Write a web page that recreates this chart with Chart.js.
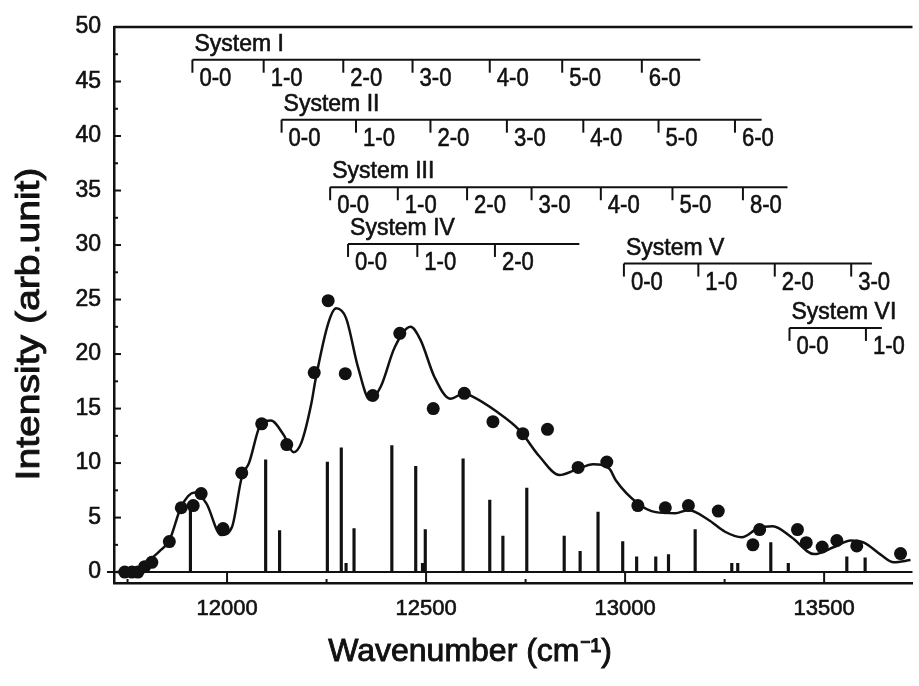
<!doctype html>
<html>
<head>
<meta charset="utf-8">
<title>Intensity vs wavenumber</title>
<script src="https://cdn.jsdelivr.net/npm/chart.js"></script>
<style>
  html, body { margin: 0; padding: 0; background: #fff; overflow: hidden; }
</style>
</head>
<body>
<canvas id="c" width="919" height="686"></canvas>
<script>
// measured intensities (filled circles)
const dotX = [11743, 11761, 11776, 11793, 11811, 11855, 11885, 11915, 11935, 11990, 12037, 12087, 12150,
  12219, 12254, 12297, 12366, 12434, 12518, 12596, 12668, 12743, 12805, 12882, 12954, 13032, 13101,
  13159, 13234, 13321, 13338, 13433, 13455, 13495, 13532, 13582, 13692];
const dotY = [0.0, 0.0, 0.0, 0.5, 0.9, 2.8, 5.9, 6.1, 7.2, 4.0, 9.1, 13.6, 11.7,
  18.3, 24.9, 18.2, 16.2, 21.9, 15.0, 16.4, 13.8, 12.7, 13.1, 9.6, 10.1, 6.1, 5.9,
  6.1, 5.6, 2.5, 3.9, 3.9, 2.7, 2.3, 2.9, 2.4, 1.7];

// simulated envelope (solid line)
const fitX = [11722, 11760, 11790, 11806, 11830, 11855, 11885, 11918, 11948, 11985, 12012, 12037, 12055,
  12087, 12110, 12142, 12167, 12187, 12212, 12222, 12254, 12274, 12299, 12329, 12359, 12386, 12421,
  12461, 12486, 12521, 12561, 12596, 12611, 12678, 12735, 12785, 12835, 12877, 12920, 12960, 12977,
  13032, 13077, 13126, 13159, 13209, 13251, 13293, 13333, 13371, 13418, 13475, 13525, 13567, 13600,
  13642, 13675, 13717];
const fitY = [0.0, 0.1, 0.4, 1.1, 1.9, 2.9, 6.0, 7.3, 6.3, 3.4, 4.1, 8.7, 10.0,
  13.7, 13.9, 12.6, 11.0, 11.9, 15.5, 17.6, 22.8, 24.2, 23.3, 18.8, 15.8, 17.0, 20.6,
  22.5, 21.3, 17.9, 15.9, 16.4, 16.2, 14.7, 13.0, 10.6, 8.9, 9.4, 9.9, 9.5, 8.4,
  6.3, 5.5, 5.4, 5.7, 4.8, 3.7, 3.2, 4.0, 4.2, 3.2, 1.65, 2.3, 2.9, 2.7,
  1.6, 0.9, 1.1];

// band positions (stick spectrum)
const stickX = [11908, 12097, 12132, 12252, 12287, 12299, 12319, 12414, 12474, 12491, 12498, 12593, 12660,
  12693, 12753, 12847, 12887, 12932, 12994, 13029, 13077, 13109, 13176, 13268, 13283, 13366, 13410,
  13557, 13603];
const stickY = [6.2, 10.3, 3.8, 10.1, 11.4, 0.8, 4.0, 11.6, 9.7, 0.8, 3.9, 10.4, 6.6,
  3.3, 7.7, 3.3, 1.9, 5.5, 2.8, 1.4, 1.4, 1.6, 3.9, 0.8, 0.8, 2.7, 0.8,
  1.4, 1.3];

const xTicks = [12000, 12500, 13000, 13500];
const yTicks = [0, 5, 10, 15, 20, 25, 30, 35, 40, 45, 50];

// vibronic progressions drawn above the spectrum
const systemNames = ['System I', 'System II', 'System III', 'System IV', 'System V', 'System VI'];
const systemLevel = [47.0, 41.5, 35.3, 30.1, 28.3, 22.4];
const systemEnd = [13189, 13343, 13408, 12885, 13620, 13645];
const systemBands = [
  [11913, 12092, 12292, 12466, 12660, 12842, 13042],
  [12137, 12324, 12511, 12703, 12895, 13084, 13276],
  [12259, 12429, 12603, 12765, 12939, 13119, 13296],
  [12304, 12478, 12673],
  [12997, 13184, 13376, 13568],
  [13413, 13605]
];
const bandLabels = [
  ['0-0', '1-0', '2-0', '3-0', '4-0', '5-0', '6-0'],
  ['0-0', '1-0', '2-0', '3-0', '4-0', '5-0', '6-0'],
  ['0-0', '1-0', '2-0', '3-0', '4-0', '5-0', '8-0'],
  ['0-0', '1-0', '2-0'],
  ['0-0', '1-0', '2-0', '3-0'],
  ['0-0', '1-0']
];

const INK = '#111';
const FONT = '"Liberation Sans", Arial, sans-serif';

// fill + thin stroke, the scan has heavy glyphs
function inkText(ctx, txt, x, y) {
  ctx.fillText(txt, x, y);
  ctx.strokeText(txt, x, y);
}

const decor = {
  id: 'decor',
  beforeDatasetsDraw(chart) {
    const { ctx, chartArea: a, scales: { y } } = chart;
    const y0 = y.getPixelForValue(0);
    ctx.save();
    ctx.strokeStyle = INK;
    ctx.lineWidth = 2;
    ctx.beginPath(); ctx.moveTo(a.left - 7, y0); ctx.lineTo(a.right, y0); ctx.stroke();
    ctx.restore();
  },
  afterDraw(chart) {
    const { ctx, chartArea: a, scales: { x, y } } = chart;
    ctx.save();
    ctx.strokeStyle = INK;
    ctx.fillStyle = INK;

    // top frame line
    ctx.lineWidth = 2.5;
    ctx.beginPath(); ctx.moveTo(a.left, a.top); ctx.lineTo(a.right, a.top); ctx.stroke();

    // inward ticks, major + minor
    ctx.lineWidth = 2;
    const xs = xTicks[1] - xTicks[0];
    for (let v = xTicks[0] - xs / 2; v <= x.max; v += xs / 2) {
      const px = x.getPixelForValue(v);
      if (px < a.left) continue;
      const major = xTicks.includes(v);
      ctx.beginPath(); ctx.moveTo(px, a.bottom); ctx.lineTo(px, a.bottom - (major ? 10 : 4)); ctx.stroke();
    }
    const ys = yTicks[1] - yTicks[0];
    for (let v = yTicks[0]; v <= y.max; v += ys / 2) {
      const py = y.getPixelForValue(v);
      const major = yTicks.includes(v);
      ctx.beginPath(); ctx.moveTo(a.left, py); ctx.lineTo(a.left + (major ? 7 : 4), py); ctx.stroke();
    }

    // system progressions
    systemNames.forEach((name, s) => {
      const ly = y.getPixelForValue(systemLevel[s]);
      const bx = systemBands[s].map(v => x.getPixelForValue(v));
      ctx.lineWidth = 2;
      ctx.beginPath(); ctx.moveTo(bx[0], ly); ctx.lineTo(x.getPixelForValue(systemEnd[s]), ly); ctx.stroke();
      ctx.font = '23px ' + FONT;
      ctx.textAlign = 'left';
      ctx.textBaseline = 'alphabetic';
      ctx.lineWidth = 0.6;
      inkText(ctx, name, bx[0] + 2, ly - 9);
      bx.forEach((px, i) => {
        ctx.lineWidth = 2;
        ctx.beginPath(); ctx.moveTo(px, ly); ctx.lineTo(px, ly + 13); ctx.stroke();
        ctx.save();
        ctx.translate(px + 7, ly + 6);
        ctx.scale(0.85, 1);
        ctx.font = '26px ' + FONT;
        ctx.textBaseline = 'top';
        ctx.lineWidth = 0.6;
        inkText(ctx, bandLabels[s][i], 0, 0);
        ctx.restore();
      });
    });

    // axis titles
    ctx.font = '32px ' + FONT;
    ctx.textAlign = 'center';
    ctx.textBaseline = 'middle';
    ctx.lineWidth = 0.9;
    inkText(ctx, 'Wavenumber (cm\u207B\u00B9)', a.left + 356, a.bottom + 69);
    ctx.save();
    ctx.translate(30, a.top + 297);
    ctx.rotate(-Math.PI / 2);
    ctx.scale(1.15, 1);
    ctx.font = '34px ' + FONT;
    inkText(ctx, 'Intensity (arb.unit)', 0, 0);
    ctx.restore();
    ctx.restore();
  }
};

new Chart(document.getElementById('c'), {
  type: 'scatter',
  data: {
    datasets: [
      {
        type: 'scatter',
        data: dotX.map((v, i) => ({ x: v, y: dotY[i] })),
        pointRadius: 6.5,
        pointBackgroundColor: INK,
        pointBorderColor: INK,
        pointBorderWidth: 0,
        order: 0
      },
      {
        type: 'line',
        data: fitX.map((v, i) => ({ x: v, y: fitY[i] })),
        borderColor: INK,
        borderWidth: 2.5,
        pointRadius: 0,
        cubicInterpolationMode: 'monotone',
        fill: false,
        order: 1
      },
      {
        type: 'bar',
        data: stickX.map((v, i) => ({ x: v, y: stickY[i] })),
        backgroundColor: INK,
        barThickness: 2.5,
        order: 2
      }
    ]
  },
  options: {
    responsive: false,
    animation: false,
    layout: { padding: { top: 27, left: 0, right: 0, bottom: 0 } },
    plugins: { legend: { display: false }, tooltip: { enabled: false } },
    scales: {
      x: {
        type: 'linear',
        min: 11716,
        max: 13722,
        offset: false,
        grid: { display: false, drawTicks: false },
        border: { display: true, color: INK, width: 2.5 },
        afterBuildTicks: s => { s.ticks = xTicks.map(v => ({ value: v })); },
        afterFit: s => { s.height = 103; },
        ticks: {
          color: INK, padding: 13, maxRotation: 0, textStrokeColor: INK, textStrokeWidth: 0.6,
          font: { family: FONT, size: 22 },
          callback: v => String(v)
        }
      },
      y: {
        type: 'linear',
        min: -1,
        max: 50,
        grid: { display: false, drawTicks: false },
        border: { display: true, color: INK, width: 2.5 },
        afterBuildTicks: s => { s.ticks = yTicks.map(v => ({ value: v })); },
        afterFit: s => { s.width = 114; },
        ticks: {
          color: INK, padding: 13, textStrokeColor: INK, textStrokeWidth: 0.6,
          font: { family: FONT, size: 23 },
          callback: v => String(v)
        }
      }
    }
  },
  plugins: [decor]
});
</script>
</body>
</html>
